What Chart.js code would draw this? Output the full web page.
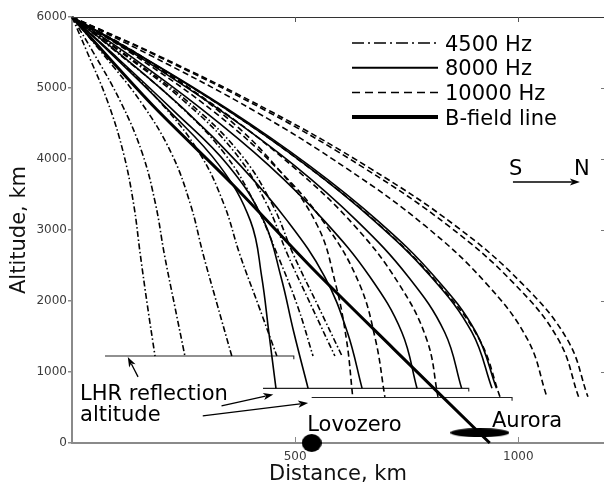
<!DOCTYPE html>
<html>
<head>
<meta charset="utf-8">
<script src="https://cdn.jsdelivr.net/npm/chart.js@4.4.0/dist/chart.umd.min.js"></script>
<style>
  html, body { margin: 0; padding: 0; background: #fff; }
  #wrap { width: 604px; height: 482px; }
</style>
</head>
<body>
<div id="wrap"><canvas id="rayChart" width="604" height="482"></canvas></div>
<script>
// altitudes (km) where every ray of one frequency is sampled
var alt4500 = [6000, 5520, 4805, 4090, 3370, 2655, 1935, 1225];
var alt8000 = [6000, 5480, 4695, 3910, 3125, 2345, 1560, 770];
var alt10000 = [6000, 5465, 4665, 3860, 3060, 2255, 1455, 650];

// horizontal distance (km) of each ray at those altitudes
var dist4500 = [
    [0, 33, 80, 115, 138, 153, 169, 186],
    [0, 46, 109, 157, 187, 207, 230, 253],
    [0, 64, 154, 222, 265, 294, 326, 358],
    [0, 83, 197, 285, 340, 376, 418, 459],
    [0, 97, 232, 340, 410, 460, 505, 540],
    [0, 106, 253, 365, 436, 483, 536, 589],
    [0, 109, 260, 375, 448, 496, 551, 605]
];
var dist8000 = [
    [0, 88, 215, 330, 400, 425, 441, 457],
    [0, 92, 225, 350, 430, 468, 497, 529],
    [0, 107, 252, 377, 483, 566, 617, 650],
    [0, 124, 292, 441, 566, 667, 739, 773],
    [0, 140, 330, 498, 639, 753, 835, 873],
    [0, 146, 347, 525, 678, 804, 896, 941],
    [0, 147, 351, 531, 686, 812, 905, 951]
];
var dist10000 = [
    [0, 151, 331, 462, 550, 590, 615, 629],
    [0, 139, 318, 461, 570, 643, 680, 701],
    [0, 145, 339, 501, 633, 731, 795, 820],
    [0, 149, 354, 535, 691, 819, 913, 959],
    [0, 174, 412, 617, 791, 927, 1021, 1064],
    [0, 186, 439, 658, 843, 989, 1090, 1135],
    [0, 190, 447, 670, 859, 1007, 1110, 1156]
];

// magnetic field line through the source point
var fieldDist = [0, 180, 360, 540, 720, 936];
var fieldAlt = [6000, 4760, 3640, 2450, 1330, 0];

// LHR reflection altitude segments
var lhrAlt = [1225, 770, 640];
var lhrFrom = [74, 428, 537];
var lhrTo = [497, 889, 986];

// ground sites
var siteNames = ['Lovozero', 'Aurora'];
var siteDist = [537, 914];
var siteAlt = [0, 145];

var xTicks = [500, 1000];
var legendLabels = ['4500 Hz', '8000 Hz', '10000 Hz', 'B-field line'];

// text and arrows placed in data units
var noteText = ['LHR reflection', 'altitude', 'Lovozero', 'Aurora', 'S', 'N'];
var noteDist = [18, 18, 527, 941, 979, 1125];
var noteAlt = [606, 310, 169, 225, 3775, 3775];
var arrowFrom = [[148, 931], [335, 522], [293, 381], [988, 3676]];
var arrowTo = [[125, 1213], [451, 684], [529, 564], [1138, 3676]];

var FONT = 'DejaVu Sans';
var dashes = { dashDot: [6, 2.5, 1.5, 2.5], solid: [], dashed: [6, 3.5] };

function pts(dist, alt) {
    return dist.map(function (d, i) { return { x: d, y: alt[i] }; });
}

function ellipseImage(w, h) {
    var c = document.createElement('canvas');
    c.width = w; c.height = h;
    var g = c.getContext('2d');
    g.fillStyle = '#000';
    g.beginPath();
    g.ellipse(w / 2, h / 2, w / 2, h / 2, 0, 0, 2 * Math.PI);
    g.fill();
    return c;
}

var datasets = [];

function addRays(list, alt, dash, label) {
    list.forEach(function (dist) {
        datasets.push({
            label: label,
            data: pts(dist, alt),
            showLine: true,
            borderColor: '#000',
            borderWidth: 1.6,
            borderDash: dash,
            pointRadius: 0,
            tension: 0.4,
            order: 3
        });
    });
}
addRays(dist4500, alt4500, dashes.dashDot, '4500 Hz');
addRays(dist8000, alt8000, dashes.solid, '8000 Hz');
addRays(dist10000, alt10000, dashes.dashed, '10000 Hz');

datasets.push({
    label: 'B-field line',
    data: pts(fieldDist, fieldAlt),
    showLine: true,
    borderColor: '#000',
    borderWidth: 3,
    pointRadius: 0,
    tension: 0.3,
    clip: false,
    order: 2
});

lhrAlt.forEach(function (a, i) {
    datasets.push({
        label: 'LHR',
        data: [{ x: lhrFrom[i], y: a }, { x: lhrTo[i], y: a }, { x: lhrTo[i], y: a - 45 }],
        showLine: true,
        borderColor: '#222',
        borderWidth: 1.1,
        pointRadius: 0,
        tension: 0,
        order: 4
    });
});

var siteShapes = [ellipseImage(20, 18), ellipseImage(59, 9)];
siteNames.forEach(function (name, i) {
    datasets.push({
        label: name,
        data: [{ x: siteDist[i], y: siteAlt[i] }],
        showLine: false,
        pointStyle: siteShapes[i],
        pointRadius: 10,
        clip: false,
        order: 1
    });
});

function arrow(ctx, x0, y0, x1, y1) {
    var ang = Math.atan2(y1 - y0, x1 - x0), len = 10, half = 3.6;
    ctx.beginPath();
    ctx.moveTo(x0, y0);
    ctx.lineTo(x1 - Math.cos(ang) * len * 0.8, y1 - Math.sin(ang) * len * 0.8);
    ctx.stroke();
    ctx.beginPath();
    ctx.moveTo(x1, y1);
    ctx.lineTo(x1 - Math.cos(ang) * len - Math.sin(ang) * half, y1 - Math.sin(ang) * len + Math.cos(ang) * half);
    ctx.lineTo(x1 - Math.cos(ang) * len * 0.75, y1 - Math.sin(ang) * len * 0.75);
    ctx.lineTo(x1 - Math.cos(ang) * len + Math.sin(ang) * half, y1 - Math.sin(ang) * len - Math.cos(ang) * half);
    ctx.closePath();
    ctx.fill();
}

var decor = {
    id: 'decor',
    afterDraw: function (chart) {
        var ctx = chart.ctx, a = chart.chartArea;
        var xs = chart.scales.x, ys = chart.scales.y;
        ctx.save();

        // top frame line and inward ticks
        ctx.strokeStyle = '#333';
        ctx.lineWidth = 1;
        ctx.beginPath();
        ctx.moveTo(a.left, a.top + 0.5);
        ctx.lineTo(a.right, a.top + 0.5);
        ctx.stroke();
        xTicks.forEach(function (v) {
            var px = Math.round(xs.getPixelForValue(v)) + 0.5;
            ctx.strokeStyle = '#555';
            ctx.beginPath(); ctx.moveTo(px, a.top); ctx.lineTo(px, a.top + 5); ctx.stroke();
            ctx.strokeStyle = '#8a8a8a';
            ctx.beginPath(); ctx.moveTo(px, a.bottom - 1); ctx.lineTo(px, a.bottom - 6); ctx.stroke();
        });
        ctx.strokeStyle = '#777';
        for (var v = 1000; v < 6000; v += 1000) {
            var py = Math.round(ys.getPixelForValue(v)) + 0.5;
            ctx.beginPath(); ctx.moveTo(a.right - 3, py); ctx.lineTo(a.right, py); ctx.stroke();
        }

        // legend
        var sx0 = a.left + 280, sx1 = a.left + 366;
        var legDash = [[12, 4, 2, 4], [], [8, 5], []];
        var legWidth = [1.5, 2, 1.5, 4];
        ctx.fillStyle = '#000';
        ctx.font = '21px "' + FONT + '"';
        ctx.textBaseline = 'alphabetic';
        ctx.textAlign = 'left';
        legendLabels.forEach(function (lab, i) {
            var ly = a.top + 26 + i * 24.7;
            ctx.strokeStyle = '#000';
            ctx.lineWidth = legWidth[i];
            ctx.setLineDash(legDash[i]);
            ctx.beginPath(); ctx.moveTo(sx0, ly); ctx.lineTo(sx1, ly); ctx.stroke();
            ctx.setLineDash([]);
            ctx.fillText(lab, sx1 + 7, ly + 7.5);
        });

        // labels and arrows
        noteText.forEach(function (t, i) {
            ctx.fillText(t, xs.getPixelForValue(noteDist[i]), ys.getPixelForValue(noteAlt[i]));
        });
        ctx.strokeStyle = '#000';
        ctx.lineWidth = 1.3;
        arrowFrom.forEach(function (p, i) {
            arrow(ctx, xs.getPixelForValue(p[0]), ys.getPixelForValue(p[1]),
                xs.getPixelForValue(arrowTo[i][0]), ys.getPixelForValue(arrowTo[i][1]));
        });
        ctx.restore();
    }
};

function plainTick(value) { return String(value); }

var config = {
    type: 'scatter',
    data: { datasets: datasets },
    options: {
        responsive: false,
        animation: false,
        devicePixelRatio: 1,
        layout: { autoPadding: false, padding: { top: 17, right: 0, bottom: 0, left: 0 } },
        plugins: { legend: { display: false }, tooltip: { enabled: false } },
        scales: {
            x: {
                type: 'linear', min: 0, max: 1192,
                afterBuildTicks: function (scale) {
                    scale.ticks = xTicks.map(function (v) { return { value: v }; });
                },
                ticks: { color: '#3c3c3c', font: { family: FONT, size: 12 }, padding: 7, maxRotation: 0, callback: plainTick },
                grid: { display: false, drawTicks: false },
                border: { color: '#8a8a8a', width: 2 },
                title: {
                    display: true, text: 'Distance, km', color: '#111',
                    font: { family: FONT, size: 21, lineHeight: 0.72 }, padding: { top: 0, bottom: 0 }
                },
                afterFit: function (scale) {
                    scale.height = 39;
                    scale.paddingLeft = 0;
                    scale.paddingRight = 0;
                }
            },
            y: {
                type: 'linear', min: 0, max: 6000,
                ticks: { stepSize: 1000, color: '#3c3c3c', font: { family: FONT, size: 12 }, padding: 1, callback: plainTick },
                grid: { drawOnChartArea: false, drawTicks: true, tickLength: 4, color: '#8a8a8a', lineWidth: 1.5 },
                border: { color: '#8a8a8a', width: 2 },
                title: {
                    display: true, text: 'Altitude, km', color: '#111',
                    font: { family: FONT, size: 21, lineHeight: 1 }, padding: { top: 9, bottom: 0 }
                },
                afterFit: function (scale) { scale.width = 72; }
            }
        }
    },
    plugins: [decor]
};

window.rayChart = new Chart(document.getElementById('rayChart'), config);
</script>
</body>
</html>
